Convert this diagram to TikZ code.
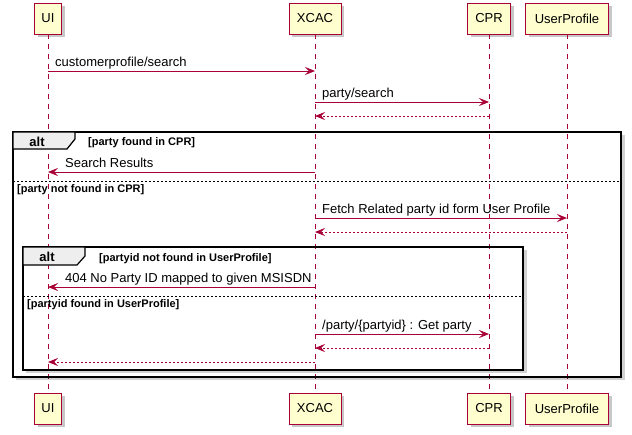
\documentclass[tikz,border=0pt]{standalone}
\usepackage{fontspec}
\setmainfont{Liberation Sans}
\usetikzlibrary{arrows.meta,shadows}
\definecolor{pumlred}{HTML}{A80036}
\definecolor{pumlfill}{HTML}{FEFECE}
\definecolor{tabfill}{HTML}{EEEEEE}
\begin{document}
\begin{tikzpicture}[x=1pt,y=-1pt,
  part/.style={draw=pumlred, fill=pumlfill, line width=0.9pt, minimum height=31pt, inner sep=0pt,
    font=\fontsize{13}{15}\selectfont,
    drop shadow={shadow xshift=3pt,shadow yshift=-3pt,fill=black,opacity=0.22}},
  life/.style={draw=pumlred, dash pattern=on 5pt off 5pt, line width=0.7pt},
  msg/.style={draw=pumlred, line width=0.8pt, -{Stealth[length=10pt,width=8pt,inset=4pt]}},
  ret/.style={msg, dash pattern=on 2pt off 2pt},
  lbl/.style={anchor=base west, inner sep=0pt, font=\fontsize{13}{15}\selectfont},
  guard/.style={anchor=base west, inner sep=0pt, font=\bfseries\fontsize{11}{13}\selectfont},
  altlbl/.style={anchor=base, inner sep=0pt, font=\bfseries\fontsize{13}{15}\selectfont},
  frame/.style={draw=black, line width=1.5pt},
  sep/.style={draw=black, line width=0.6pt, dash pattern=on 2pt off 2pt},
  tab/.style={draw=black, line width=1.2pt, fill=tabfill},
  fshadow/.style={draw=black, opacity=0.18, line width=3pt}
]
\useasboundingbox (0,0) rectangle (632,434);

% participants
\node[part, minimum width=27pt] (uiT) at (48,18.5) {UI};
\node[part, minimum width=52pt] (xcT) at (315,18.5) {XCAC};
\node[part, minimum width=43pt] (cpT) at (489,18.5) {CPR};
\node[part, minimum width=83pt] (upT) at (567,18.5) {UserProfile};
\node[part, minimum width=27pt] (uiB) at (48,408.5) {UI};
\node[part, minimum width=52pt] (xcB) at (315,408.5) {XCAC};
\node[part, minimum width=43pt] (cpB) at (489,408.5) {CPR};
\node[part, minimum width=83pt] (upB) at (567,408.5) {UserProfile};

% lifelines
\draw[life] (uiT) -- (uiB);
\draw[life] (xcT) -- (xcB);
\draw[life] (cpT) -- (cpB);
\draw[life] (upT) -- (upB);

% outer alt frame
\draw[fshadow] (623.5,135) -- (623.5,378.5) -- (16,378.5);
\draw[frame] (13,132) rectangle (621,377);
\draw[tab] (13,132) -- (75,132) -- (75,139) -- (67,149) -- (13,149) -- cycle;
\node[altlbl] (alt1) at (37,146) {alt};
\node[guard] (g1) at (88,145) {[party found in CPR]};
\draw[sep] (13,181) -- (621,181);
\node[guard] (g2) at (17,192) {[party not found in CPR]};

% inner alt frame
\draw[fshadow] (525.5,250) -- (525.5,371.5) -- (26,371.5);
\draw[frame] (23,247) rectangle (523,370);
\draw[tab] (23,247) -- (85,247) -- (85,256) -- (77,265) -- (23,265) -- cycle;
\node[altlbl] (alt2) at (47,261) {alt};
\node[guard] (g3) at (99,261) {[partyid not found in UserProfile]};
\draw[sep] (23,296) -- (523,296);
\node[guard] (g4) at (27,307) {[partyid found in UserProfile]};

% messages
\draw[msg] (uiT |- 0,71) -- (xcT |- 0,71);
\node[lbl] (m1) at (55,66.5) {customerprofile/search};

\draw[msg] (xcT |- 0,102) -- (cpT |- 0,102);
\node[lbl] (m2) at (322,97.5) {party/search};
\draw[ret] (cpT |- 0,116) -- (xcT |- 0,116);

\draw[msg] (xcT |- 0,172) -- (uiT |- 0,172);
\node[lbl] (m3) at (65,167) {Search Results};

\draw[msg] (xcT |- 0,218) -- (upT |- 0,218);
\node[lbl] (m4) at (322,213) {Fetch Related party id form User Profile};
\draw[ret] (upT |- 0,232) -- (xcT |- 0,232);

\draw[msg] (xcT |- 0,287) -- (uiT |- 0,287);
\node[lbl] (m5) at (65,282) {404 No Party ID mapped to given MSISDN};

\draw[msg] (xcT |- 0,334) -- (cpT |- 0,334);
\node[lbl] (m6) at (322,329) {/party/\{partyid\} : Get party};
\draw[ret] (cpT |- 0,348) -- (xcT |- 0,348);
\draw[ret] (xcT |- 0,362) -- (uiT |- 0,362);
\end{tikzpicture}
\end{document}
